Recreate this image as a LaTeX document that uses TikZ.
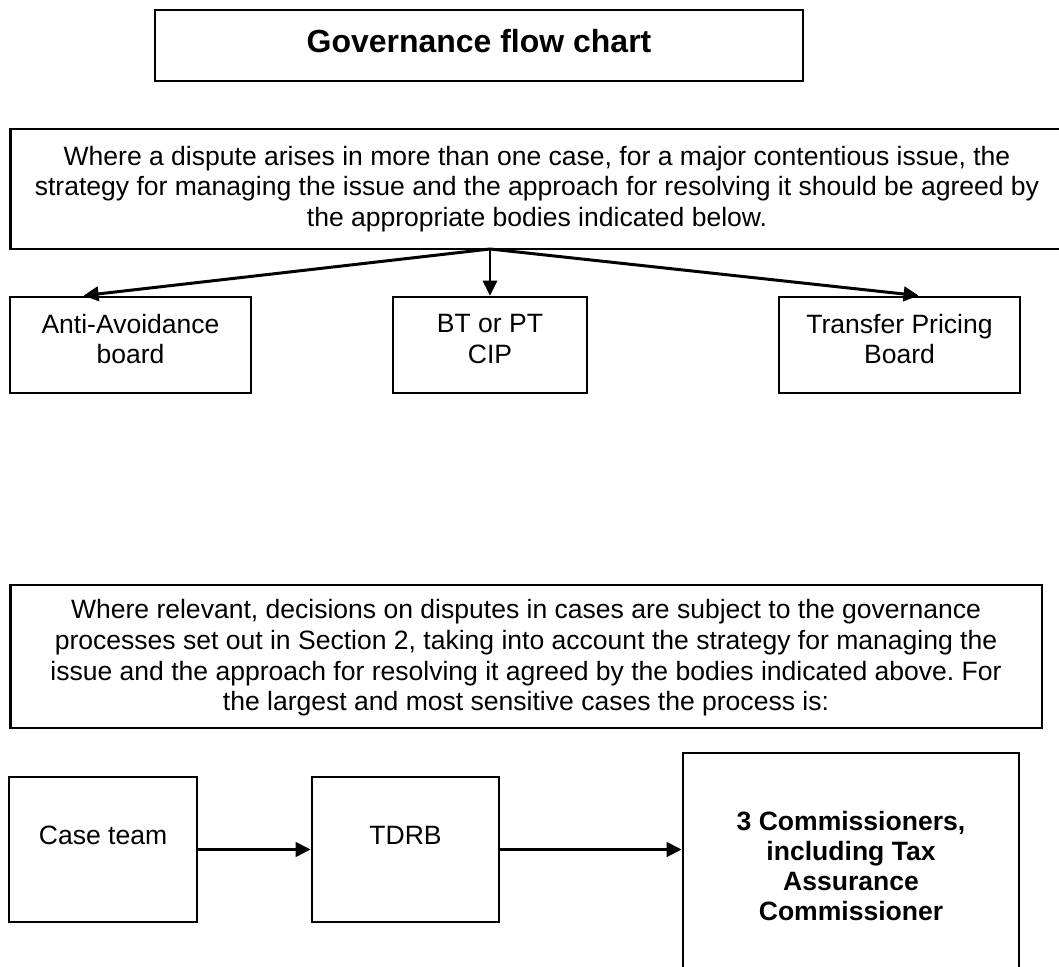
\documentclass[tikz,border=0pt]{standalone}
\usepackage{fontspec}
\setmainfont{Liberation Sans}
\usepackage{tikz}
\usetikzlibrary{arrows.meta}
\frenchspacing

\begin{document}
\begin{tikzpicture}[
		x=0.02cm, y=-0.02cm,
		font=\fontsize{15.1}{17.5}\selectfont,
		box/.style={draw, line width=1.6pt, inner sep=0pt},
		titlebox/.style={draw, line width=1.1pt, inner sep=0pt},
		flow/.style={-{Triangle[length=3mm, width=2.9mm]}, line width=1.7pt},
		item/.style={align=center},
		heading/.style={font=\fontsize{18.2}{22}\selectfont\bfseries}]
		\useasboundingbox (0,0) rectangle (1059,967);

		\node[titlebox, minimum width=12.96cm, minimum height=1.42cm] (title) at (479,45.5) {};
		\node[heading] (titletxt) at (479,41) {Governance flow chart};

		% strategy for contentious issues
		\node[box, minimum width=21.08cm, minimum height=2.4cm] (dispute) at (537,189) {};
		\node[item] (disputetxt) at (537,189) {Where a dispute arises in more than one case, for a major contentious issue, the\\strategy for managing the issue and the approach for resolving it should be agreed by\\the appropriate bodies indicated below.};
		\coordinate (split) at (490,249);

		\node[box, minimum width=4.82cm, minimum height=1.92cm] (aab) at (130.5,345) {};
		\node[item] (aabtxt) at (130.5,339) {Anti-Avoidance\\board};
		\node[box, minimum width=3.88cm, minimum height=1.92cm] (cip) at (490,345) {};
		\node[item] (ciptxt) at (490,339) {BT or PT\\CIP};
		\node[box, minimum width=4.82cm, minimum height=1.92cm] (tpb) at (899.5,345) {};
		\node[item] (tpbtxt) at (899.5,339) {Transfer Pricing\\Board};

		\draw[flow] (split) -- ([xshift=1.5cm]aab.north west);
		\draw[flow, line width=1.2pt] (split) -- (cip.north);
		\draw[flow] (split) -- ([xshift=2.82cm]tpb.north west);

		% case governance
		\node[box, minimum width=20.64cm, minimum height=2.86cm] (govern) at (526,656.5) {};
		\node[item] (governtxt) at (526,658) {Where relevant, decisions on disputes in cases are subject to the governance\\processes set out in Section 2, taking into account the strategy for managing the\\issue and the approach for resolving it agreed by the bodies indicated above. For\\the largest and most sensitive cases the process is:};

		\node[box, minimum width=3.76cm, minimum height=2.9cm] (case) at (103,849.5) {};
		\node[item] (casetxt) at (103,835) {Case team};
		\node[box, minimum width=3.74cm, minimum height=2.9cm] (tdrb) at (405.5,849.5) {};
		\node[item] (tdrbtxt) at (405.5,835) {TDRB};
		\node[box, minimum width=6.72cm, minimum height=4.54cm] (comm) at (851,866.5) {};
		\node[item, font=\fontsize{15.1}{17.2}\selectfont\bfseries] (commtxt) at (851,866) {3 Commissioners,\\including Tax\\Assurance\\Commissioner};

		\draw[flow] (case.east) -- (tdrb.west);
		\draw[flow] (tdrb.east) -- (tdrb.east -| comm.west);
	\end{tikzpicture}
\end{document}
